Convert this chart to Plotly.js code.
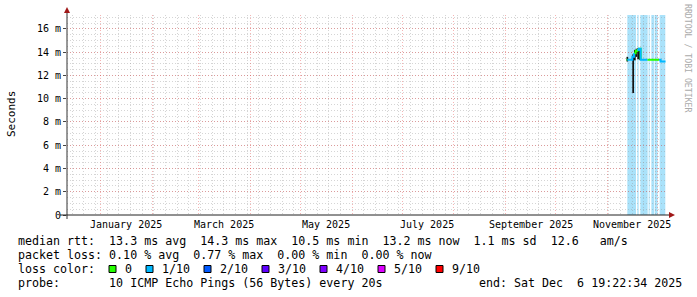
<!DOCTYPE html>
<html><head><meta charset="utf-8">
<script src="https://cdn.plot.ly/plotly-3.0.1.min.js"></script>
<style>html,body{margin:0;padding:0;background:#fff}</style>
</head><body><div id="chart" style="width:697px;height:297px"></div>
<script>
// ---- data ----
const rangeStart = '2024-12-11 19:22:34';
const rangeEnd = '2025-12-06 19:22:34';

const sampleTimes = [
  '2025-11-12 12:00','2025-11-13','2025-11-14','2025-11-15','2025-11-16','2025-11-17',
  '2025-11-18','2025-11-19','2025-11-20','2025-11-21','2025-11-22','2025-11-23',
  '2025-11-24','2025-11-25','2025-11-26','2025-11-27','2025-11-28','2025-11-29',
  '2025-11-30','2025-12-01','2025-12-02','2025-12-03','2025-12-04','2025-12-05',
  '2025-12-05 22:00'
];
const medianMs = [
  13.35,13.35,13.35,13.35,13.6,13.9,
  14.1,14.2,14.3,13.35,13.35,13.35,
  13.35,13.35,13.35,13.35,13.35,13.35,
  13.35,13.35,13.35,13.2,13.2,13.2,
  13.2
];
const lossFraction = [
  0,0.1,0.1,0.1,0.1,0,
  0,0.1,0,0.1,0.1,0.1,
  0.1,0,0,0,0,0,
  0,0,0.1,0.1,0.1,0.1,
  0.1
];
const smokeMinMs = [
  13.2,null,null,null,10.5,13.3,
  13.6,13.4,13.35,null,null,null,
  null,null,null,null,null,null,
  null,null,null,null,null,null,
  null
];
const smokeMaxMs = [
  13.6,null,null,null,13.8,14.2,
  14.3,14.35,14.35,null,null,null,
  null,null,null,null,null,null,
  null,null,null,null,null,null,
  null
];
const lossBandStart = ['2025-11-13 00:00','2025-11-19 00:00','2025-11-20 19:00','2025-11-25 19:00',
                       '2025-11-27 10:00','2025-11-29 14:00','2025-12-02 10:00'];
const lossBandEnd   = ['2025-11-18 05:00','2025-11-19 19:00','2025-11-25 05:00','2025-11-26 10:00',
                       '2025-11-29 05:00','2025-12-01 05:00','2025-12-05 19:00'];

const yTickValues = [0,2,4,6,8,10,12,14,16];
const yTickLabels = ['0','2 m','4 m','6 m','8 m','10 m','12 m','14 m','16 m'];
const monthLabelDates = ['2025-01-16','2025-03-16','2025-05-16','2025-07-16','2025-09-16','2025-11-16'];
const monthLabelText = ['January 2025','March 2025','May 2025','July 2025','September 2025','November 2025'];

const lossLevels = [0,0.1,0.2,0.3,0.4,0.5,0.9];
const lossLevelLabels = ['0','1/10','2/10','3/10','4/10','5/10','9/10'];
const lossColors = ['#26ff00','#00b8ff','#0059ff','#5e00ff','#7e00ff','#dd00ff','#ff0000'];

const statsLines = [
  'median rtt:  13.3 ms avg  14.3 ms max  10.5 ms min  13.2 ms now  1.1 ms sd  12.6   am/s',
  'packet loss: 0.10 % avg  0.77 % max  0.00 % min  0.00 % now',
  'loss color:',
  'probe:       10 ICMP Echo Pings (56 Bytes) every 20s'
];
const endText = 'end: Sat Dec  6 19:22:34 2025';

// ---- layout helpers (pixel geometry) ----
const W = 697, H = 297;
const L = 67, R = 30, T = 15, B = 82;
const PW = W - L - R, PH = H - T - B;
const px2paperX = p => (p - L) / PW;
const py2paperY = p => (H - B - p) / PH;
const nb = s => s.replace(/ /g, '\u00a0');
const MONO = 'DejaVu Sans Mono';

// ---- traces ----
const traces = [];
// smoke
const smokeX = [], smokeBase = [], smokeH = [];
sampleTimes.forEach((t, i) => {
  if (smokeMinMs[i] != null && smokeMaxMs[i] != null) {
    smokeX.push(t); smokeBase.push(smokeMinMs[i]); smokeH.push(smokeMaxMs[i] - smokeMinMs[i]);
  }
});
traces.push({
  type: 'bar', x: smokeX, y: smokeH, base: smokeBase,
  width: smokeX.map(() => 86400000), offset: 0,
  marker: {color: '#111', line: {width: 0}}, hoverinfo: 'skip', showlegend: false
});
// median coloured by loss
lossLevels.forEach((lv, k) => {
  const y = sampleTimes.map(() => null);
  let any = false;
  for (let i = 0; i < sampleTimes.length - 1; i++) {
    if (Math.abs(lossFraction[i] - lv) < 1e-9) {
      y[i] = medianMs[i]; y[i + 1] = medianMs[i + 1]; any = true;
    }
  }
  if (any) traces.push({
    type: 'scatter', mode: 'lines', x: sampleTimes, y: y,
    line: {color: lossColors[k], width: 2, shape: 'hv'},
    connectgaps: false, hoverinfo: 'skip', showlegend: false
  });
});

// ---- shapes ----
const shapes = [];
lossBandStart.forEach((s, i) => shapes.push({
  type: 'rect', xref: 'x', yref: 'paper', x0: s, x1: lossBandEnd[i], y0: 0, y1: 1,
  fillcolor: '#aae2fa', line: {width: 0}, layer: 'below'
}));
// axis lines
shapes.push({type: 'line', xref: 'paper', yref: 'paper', ysizemode: 'pixel', yanchor: 0,
  x0: 0, x1: 0, y0: -4, y1: PH + 5, line: {color: '#333', width: 1}});
shapes.push({type: 'line', xref: 'paper', yref: 'paper', xsizemode: 'pixel', xanchor: 0,
  x0: -7, x1: PW + 4, y0: 0, y1: 0, line: {color: '#222', width: 1}});
// arrows
shapes.push({type: 'path', xref: 'paper', yref: 'paper', xsizemode: 'pixel', ysizemode: 'pixel',
  xanchor: 0, yanchor: 1, path: 'M-3,2 L3,2 L0,8 Z', fillcolor: '#a01818', line: {width: 0}});
shapes.push({type: 'path', xref: 'paper', yref: 'paper', xsizemode: 'pixel', ysizemode: 'pixel',
  xanchor: 1, yanchor: 0, path: 'M2,-3 L2,3 L8,0 Z', fillcolor: '#a01818', line: {width: 0}});

// ---- annotations ----
const annotations = [];
monthLabelDates.forEach((d, i) => annotations.push({
  xref: 'x', yref: 'paper', x: d, y: py2paperY(224), xanchor: 'center', yanchor: 'middle',
  text: monthLabelText[i], showarrow: false, font: {family: MONO, size: 10, color: '#000'}
}));
const rowY = [241, 255, 269, 283];
statsLines.forEach((s, i) => annotations.push({
  xref: 'paper', yref: 'paper', x: px2paperX(16), y: py2paperY(rowY[i]),
  xanchor: 'left', yanchor: 'middle', text: nb(s), showarrow: false,
  font: {family: MONO, size: 11.65, color: '#000'}
}));
annotations.push({
  xref: 'paper', yref: 'paper', x: px2paperX(477), y: py2paperY(283),
  xanchor: 'left', yanchor: 'middle', text: nb(endText), showarrow: false,
  font: {family: MONO, size: 11.65, color: '#000'}
});
const boxPx = [109, 146, 204, 262, 320, 378, 436];
lossLevelLabels.forEach((lab, i) => {
  shapes.push({type: 'rect', xref: 'paper', yref: 'paper', xsizemode: 'pixel', ysizemode: 'pixel',
    xanchor: 0, yanchor: 0, x0: boxPx[i] - L, x1: boxPx[i] - L + 7,
    y0: (H - B) - 272.5, y1: (H - B) - 265.5,
    fillcolor: lossColors[i], line: {color: '#000', width: 1}});
  annotations.push({xref: 'paper', yref: 'paper', x: px2paperX(boxPx[i] + 14), y: py2paperY(269),
    xanchor: 'left', yanchor: 'middle', text: lab, showarrow: false,
    font: {family: MONO, size: 11.65, color: '#000'}});
});
annotations.push({xref: 'paper', yref: 'paper', x: px2paperX(11), y: py2paperY(114),
  xanchor: 'center', yanchor: 'middle', text: 'Seconds', textangle: -90, showarrow: false,
  font: {family: MONO, size: 11, color: '#000'}});
annotations.push({xref: 'paper', yref: 'paper', x: px2paperX(688), y: py2paperY(58),
  xanchor: 'center', yanchor: 'middle', text: nb('RRDTOOL / TOBI OETIKER'), textangle: 90, showarrow: false,
  font: {family: MONO, size: 8.2, color: '#aaa'}});

const majorGrid = 'rgba(230,60,60,0.38)';
const minorGrid = 'rgba(150,150,150,0.4)';
const layout = {
  width: W, height: H,
  margin: {l: L, r: R, t: T, b: B, pad: 0},
  paper_bgcolor: '#fff', plot_bgcolor: '#fff',
  showlegend: false, barmode: 'overlay',
  xaxis: {
    type: 'date', range: [rangeStart, rangeEnd], fixedrange: true,
    dtick: 'M1', tick0: '2025-01-01', showticklabels: false, ticks: '',
    showgrid: true, gridcolor: majorGrid, griddash: '1px,2px', gridwidth: 1,
    minor: {dtick: 7 * 86400000, tick0: '2024-12-15', showgrid: true, gridcolor: minorGrid, griddash: '1px,2px', ticks: ''},
    showline: false, zeroline: false
  },
  yaxis: {
    range: [0, 17.2], fixedrange: true,
    tickvals: yTickValues, ticktext: yTickLabels,
    ticks: 'outside', ticklen: 3, tickcolor: '#444',
    tickfont: {family: MONO, size: 10, color: '#000'},
    showgrid: true, gridcolor: majorGrid, griddash: '1px,2px', gridwidth: 1,
    minor: {dtick: 0.5, showgrid: true, gridcolor: minorGrid, griddash: '1px,2px', ticks: ''},
    showline: false, zeroline: false
  },
  shapes: shapes, annotations: annotations
};
Plotly.newPlot('chart', traces, layout, {staticPlot: true, displayModeBar: false});
</script></body></html>
